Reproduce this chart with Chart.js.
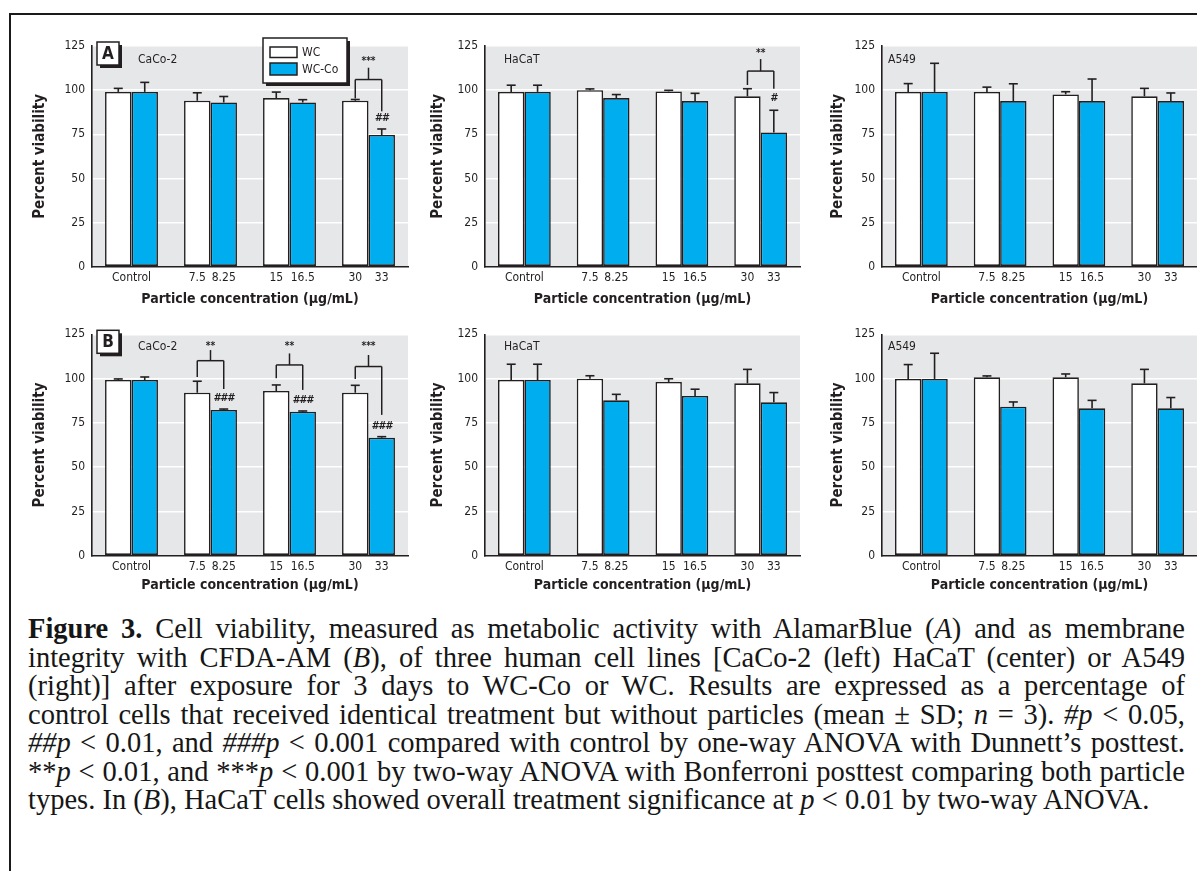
<!DOCTYPE html>
<html>
<head>
<meta charset="utf-8">
<script src="https://cdn.jsdelivr.net/npm/chart.js@4.4.1/dist/chart.umd.min.js"></script>
<style>
  html, body { margin:0; padding:0; background:#fff; width:1197px; height:871px; overflow:hidden; }
  body { position:relative; }
  .frame { position:absolute; left:9px; top:13px; width:1200px; height:900px;
           border-top:2px solid #1a1a1a; border-left:2px solid #1a1a1a; box-sizing:border-box; }
  canvas { position:absolute; }
  #caption { position:absolute; left:28px; top:615px; width:1157px; color:#161616;
             font-family:'Liberation Serif','Times New Roman',serif; }
  #caption div { height:28.5px; line-height:28.5px; text-align:justify; text-align-last:justify; }
  #caption div.last { text-align-last:left; }
  #measure { position:absolute; left:0; top:0; visibility:hidden; white-space:nowrap;
             font-family:'Liberation Serif','Times New Roman',serif; font-size:100px; }
</style>
</head>
<body>
<div class="frame"></div>
<canvas id="aCaco2"></canvas>
<canvas id="aHacat"></canvas>
<canvas id="aA549"></canvas>
<canvas id="bCaco2"></canvas>
<canvas id="bHacat"></canvas>
<canvas id="bA549"></canvas>
<div id="caption">
  <div><b>Figure 3.</b> Cell viability, measured as metabolic activity with AlamarBlue (<i>A</i>) and as membrane</div>
  <div>integrity with CFDA-AM (<i>B</i>), of three human cell lines [CaCo-2 (left) HaCaT (center) or A549</div>
  <div>(right)] after exposure for 3 days to WC-Co or WC. Results are expressed as a percentage of</div>
  <div>control cells that received identical treatment but without particles (mean ± SD; <i>n</i> = 3). <i>#p</i> &lt; 0.05,</div>
  <div><i>##p</i> &lt; 0.01, and <i>###p</i> &lt; 0.001 compared with control by one-way ANOVA with Dunnett’s posttest.</div>
  <div>**<i>p</i> &lt; 0.01, and ***<i>p</i> &lt; 0.001 by two-way ANOVA with Bonferroni posttest comparing both particle</div>
  <div class="last">types. In (<i>B</i>), HaCaT cells showed overall treatment significance at <i>p</i> &lt; 0.01 by two-way ANOVA.</div>
</div>
<span id="measure"></span>
<script>
// ---------------- DATA ----------------
const categories     = ['Control', '7.5 / 8.25', '15 / 16.5', '30 / 33'];
const wcTickLabels   = ['Control', '7.5', '15', '30'];
const wccoTickLabels = ['', '8.25', '16.5', '33'];
const yTicks = [0, 25, 50, 75, 100, 125];
const seriesNames = ['WC', 'WC-Co'];
const cellLines = ['CaCo-2', 'HaCaT', 'A549'];
const yTitle = 'Percent viability';
const xTitle = 'Particle concentration (µg/mL)';

// (A) AlamarBlue
const aCaco2WC     = [99, 94, 95.5, 94];
const aCaco2WCsd   = [2, 4.5, 3.4, 0.7];
const aCaco2Co     = [99, 93, 93, 74.6];
const aCaco2CoSd   = [5.4, 3.4, 1.6, 3.4];
const aHacatWC     = [99, 100, 99.3, 96.5];
const aHacatWCsd   = [3.8, 0.7, 0.6, 4.3];
const aHacatCo     = [99, 95.5, 93.8, 76];
const aHacatCoSd   = [3.8, 2, 4.4, 12.6];
const aA549WC      = [99, 99, 97.6, 96.5];
const aA549WCsd    = [4.7, 2.7, 1.5, 4.5];
const aA549Co      = [99, 93.8, 93.8, 93.8];
const aA549CoSd    = [16.2, 9.8, 12.5, 4.6];

// (B) CFDA-AM
const bCaco2WC     = [99.2, 92, 93, 92];
const bCaco2WCsd   = [0.6, 6.5, 3.4, 4.2];
const bCaco2Co     = [99.2, 82.3, 81.3, 66.6];
const bCaco2CoSd   = [1.7, 0.5, 0.4, 0.6];
const bHacatWC     = [99.2, 99.9, 98.1, 97.3];
const bHacatWCsd   = [8.9, 1.7, 1.8, 7.9];
const bHacatCo     = [99.2, 87.7, 90.2, 86.6];
const bHacatCoSd   = [8.9, 3.4, 3.8, 5.5];
const bA549WC      = [99.8, 100.7, 100.7, 97.3];
const bA549WCsd    = [8.1, 0.8, 1.9, 7.9];
const bA549Co      = [99.8, 84.1, 83.2, 83.2];
const bA549CoSd    = [14.5, 2.7, 4.5, 6.1];

// significance marks (values in y-axis units)
const aCaco2Brackets = [{group:3, bar:106, stem:112.7, left:95.3, right:88, label:'***', at:116}];
const aCaco2Hashes   = [{group:3, label:'##', at:84}];
const aHacatBrackets = [{group:3, bar:110.8, stem:117.6, left:102.9, right:100.8, label:'**', at:120.8}];
const aHacatHashes   = [{group:3, label:'#', at:95.3}];
const bCaco2Brackets = [
  {group:1, bar:110.1, stem:116.1, left:100.9, right:94.1, label:'**', at:118.3},
  {group:2, bar:107.7, stem:114.2, left:100.2, right:93.6, label:'**', at:118.3},
  {group:3, bar:106.8, stem:113.3, left:99.8, right:79.5, label:'***', at:118.3}
];
const bCaco2Hashes   = [
  {group:1, label:'###', at:88.9},
  {group:2, label:'###', at:88},
  {group:3, label:'###', at:73.2}
];

// ---------------- LAYOUT / STYLE ----------------
const FONT = "'Liberation Sans Narrow','DejaVu Sans Condensed','Arial Narrow',sans-serif";
const INK = '#231f20';
const CYAN = '#00aeef';
const BG = '#e6e7e8';

const cols = [
  {left:10,  width:400, yWidth:82, padRight:2, titlePad:21, labelDx:46},
  {left:410, width:392, yWidth:75, padRight:2, titlePad:19, labelDx:19},
  {left:802, width:395, yWidth:80, padRight:0, titlePad:27.5, labelDx:6}
];
const rows = [
  {top:30,  height:285, padTop:16,   xHeight:48.3, labelDy:14.3},
  {top:318, height:283, padTop:16.3, xHeight:45.3, labelDy:12.4}
];

const panels = [
  {id:'aCaco2', row:0, col:0, letter:'A', legend:true,  wc:aCaco2WC, wcSd:aCaco2WCsd, co:aCaco2Co, coSd:aCaco2CoSd, brackets:aCaco2Brackets, hashes:aCaco2Hashes},
  {id:'aHacat', row:0, col:1, letter:null, legend:false, wc:aHacatWC, wcSd:aHacatWCsd, co:aHacatCo, coSd:aHacatCoSd, brackets:aHacatBrackets, hashes:aHacatHashes},
  {id:'aA549',  row:0, col:2, letter:null, legend:false, wc:aA549WC,  wcSd:aA549WCsd,  co:aA549Co,  coSd:aA549CoSd,  brackets:[], hashes:[]},
  {id:'bCaco2', row:1, col:0, letter:'B', legend:false, wc:bCaco2WC, wcSd:bCaco2WCsd, co:bCaco2Co, coSd:bCaco2CoSd, brackets:bCaco2Brackets, hashes:bCaco2Hashes},
  {id:'bHacat', row:1, col:1, letter:null, legend:false, wc:bHacatWC, wcSd:bHacatWCsd, co:bHacatCo, coSd:bHacatCoSd, brackets:[], hashes:[]},
  {id:'bA549',  row:1, col:2, letter:null, legend:false, wc:bA549WC,  wcSd:bA549WCsd,  co:bA549Co,  coSd:bA549CoSd,  brackets:[], hashes:[]}
];
const panelById = {};
panels.forEach(p => panelById[p.id] = p);

function line(ctx, x1, y1, x2, y2) {
  ctx.beginPath(); ctx.moveTo(x1, y1); ctx.lineTo(x2, y2); ctx.stroke();
}

const decor = {
  id: 'decor',
  beforeDraw(chart) {
    const {ctx, chartArea: a} = chart;
    ctx.save();
    ctx.fillStyle = BG;
    ctx.fillRect(a.left, a.top, a.right - a.left, a.bottom - a.top);
    ctx.restore();
  },
  afterDatasetsDraw(chart) {
    const ctx = chart.ctx, y = chart.scales.y;
    ctx.save();
    ctx.strokeStyle = INK; ctx.lineWidth = 1.6; ctx.lineCap = 'butt';
    chart.data.datasets.forEach((ds, di) => {
      const meta = chart.getDatasetMeta(di);
      meta.data.forEach((bar, j) => {
        const v = ds.data[j], sd = ds.errors[j];
        const yb = y.getPixelForValue(v), yt = y.getPixelForValue(v + sd);
        line(ctx, bar.x, yb, bar.x, yt);
        line(ctx, bar.x - 4.5, yt, bar.x + 4.5, yt);
      });
    });
    ctx.restore();
  },
  afterDraw(chart) {
    const p = panelById[chart.canvas.id];
    const c = cols[p.col], r = rows[p.row];
    const {ctx, chartArea: a} = chart;
    const y = chart.scales.y;
    const m0 = chart.getDatasetMeta(0), m1 = chart.getDatasetMeta(1);
    ctx.save();
    ctx.fillStyle = INK; ctx.strokeStyle = INK;

    // x tick labels (per bar)
    ctx.font = '12px ' + FONT;
    ctx.textAlign = 'center'; ctx.textBaseline = 'middle';
    const ty = a.bottom + 11;
    for (let j = 0; j < categories.length; j++) {
      const x0 = m0.data[j].x, x1 = m1.data[j].x;
      if (wccoTickLabels[j] === '') {
        ctx.fillText(wcTickLabels[j], (x0 + x1) / 2, ty);
      } else {
        ctx.fillText(wcTickLabels[j], x0, ty);
        ctx.fillText(wccoTickLabels[j], x1, ty);
      }
    }

    // cell line label
    ctx.textAlign = 'left';
    ctx.font = '12px ' + FONT;
    ctx.fillText(cellLines[p.col], a.left + c.labelDx, a.top + r.labelDy);

    // panel letter box
    if (p.letter) {
      const bx = a.left + 5, by = a.top - 4, bw = 22, bh = 23;
      ctx.fillStyle = INK;
      ctx.fillRect(bx + 3, by + 3, bw, bh);
      ctx.fillStyle = '#fff';
      ctx.fillRect(bx, by, bw, bh);
      ctx.lineWidth = 1.5;
      ctx.strokeRect(bx, by, bw, bh);
      ctx.fillStyle = INK;
      ctx.font = 'bold 17px ' + FONT;
      ctx.textAlign = 'center';
      ctx.fillText(p.letter, bx + bw / 2, by + bh / 2 + 1);
    }

    // legend
    if (p.legend) {
      const lx = a.left + 171, ly = a.top - 8, lw = 84, lh = 45;
      ctx.fillStyle = INK;
      ctx.fillRect(lx + 3, ly + 3, lw, lh);
      ctx.fillStyle = '#fff';
      ctx.fillRect(lx, ly, lw, lh);
      ctx.lineWidth = 1.5;
      ctx.strokeRect(lx, ly, lw, lh);
      const sw = [{yy: ly + 9, h: 10.5}, {yy: ly + 25, h: 12}];
      chart.data.datasets.forEach((ds, i) => {
        ctx.fillStyle = ds.backgroundColor;
        ctx.fillRect(lx + 7, sw[i].yy, 27, sw[i].h);
        ctx.lineWidth = 1.5;
        ctx.strokeRect(lx + 7, sw[i].yy, 27, sw[i].h);
        ctx.fillStyle = INK;
        ctx.font = '12px ' + FONT;
        ctx.textAlign = 'left';
        ctx.fillText(ds.label, lx + 39, sw[i].yy + sw[i].h / 2 + 0.5);
      });
    }

    // significance brackets
    ctx.lineWidth = 1.5;
    ctx.fillStyle = INK;
    p.brackets.forEach(b => {
      const x0 = m0.data[b.group].x, x1 = m1.data[b.group].x, xm = (x0 + x1) / 2;
      const yb = y.getPixelForValue(b.bar);
      line(ctx, x0, yb, x1, yb);
      line(ctx, x0, yb, x0, y.getPixelForValue(b.left));
      line(ctx, x1, yb, x1, y.getPixelForValue(b.right));
      line(ctx, xm, yb, xm, y.getPixelForValue(b.stem));
      ctx.font = 'bold 10px ' + FONT;
      ctx.textAlign = 'center';
      ctx.fillText(b.label, xm, y.getPixelForValue(b.at));
    });
    p.hashes.forEach(h => {
      const x1 = m1.data[h.group].x;
      ctx.font = 'italic bold 11px ' + FONT;
      ctx.textAlign = 'center';
      ctx.fillText(h.label, x1, y.getPixelForValue(h.at));
    });
    ctx.restore();
  }
};

panels.forEach(p => {
  const c = cols[p.col], r = rows[p.row];
  const cv = document.getElementById(p.id);
  cv.width = c.width; cv.height = r.height;
  cv.style.left = c.left + 'px'; cv.style.top = r.top + 'px';
  cv.style.width = c.width + 'px'; cv.style.height = r.height + 'px';
  new Chart(cv, {
    type: 'bar',
    data: {
      labels: categories,
      datasets: [
        {label: seriesNames[0], data: p.wc, errors: p.wcSd, backgroundColor: '#ffffff',
         borderColor: INK, borderWidth: 1.6, borderSkipped: false},
        {label: seriesNames[1], data: p.co, errors: p.coSd, backgroundColor: CYAN,
         borderColor: INK, borderWidth: 1.6, borderSkipped: false}
      ]
    },
    options: {
      responsive: false,
      animation: false,
      devicePixelRatio: 1,
      categoryPercentage: 0.67,
      barPercentage: 1.0,
      layout: {padding: {top: r.padTop, right: c.padRight, bottom: 0, left: 0}},
      plugins: {legend: {display: false}, tooltip: {enabled: false}, title: {display: false}},
      scales: {
        x: {
          offset: true,
          grid: {display: false},
          border: {display: true, color: INK, width: 1.6},
          ticks: {display: false},
          title: {display: true, text: xTitle, color: INK,
                  font: {family: FONT, size: 14, weight: 'bold'}, padding: {top: 0, bottom: 7.5}},
          afterFit(s) { s.height = r.xHeight; }
        },
        y: {
          min: yTicks[0], max: yTicks[yTicks.length - 1],
          ticks: {stepSize: yTicks[1] - yTicks[0], color: INK, padding: 7,
                  font: {family: FONT, size: 12}},
          grid: {color: '#ffffff', lineWidth: 1.5, drawTicks: false},
          border: {display: true, color: INK, width: 1.6},
          title: {display: true, text: yTitle, color: INK,
                  font: {family: FONT, size: 15, weight: 'bold'}, padding: {top: c.titlePad, bottom: 0}},
          afterFit(s) { s.width = c.yWidth; }
        }
      }
    },
    plugins: [decor]
  });
});

// caption font sizing: last (unjustified) line spans its original width, others must fit
(function () {
  const cap = document.getElementById('caption');
  const meas = document.getElementById('measure');
  const lines = Array.from(cap.children);
  const widths = lines.map(d => { meas.innerHTML = d.innerHTML; return meas.getBoundingClientRect().width / 100; });
  let size = 1122 / widths[widths.length - 1];
  widths.forEach((w, i) => { if (i < widths.length - 1) size = Math.min(size, 1150 / w); });
  cap.style.fontSize = size.toFixed(2) + 'px';
  meas.innerHTML = '';
})();
</script>
</body>
</html>
